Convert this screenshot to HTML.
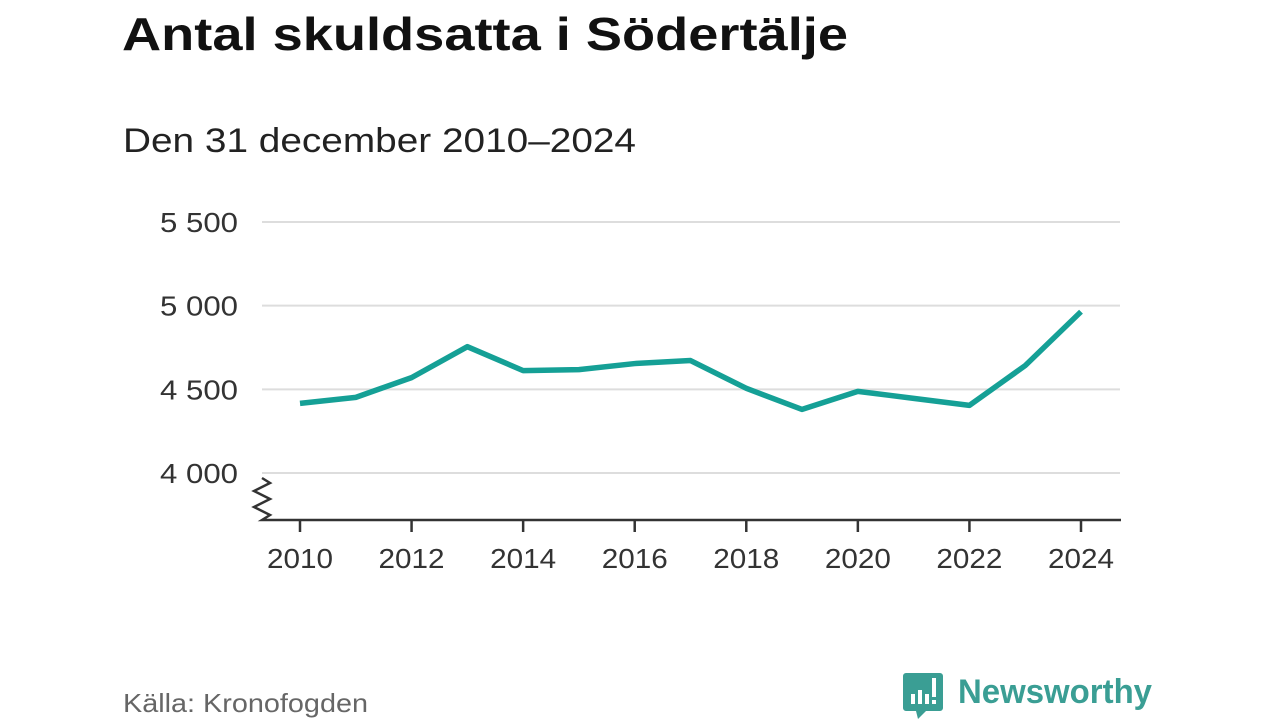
<!DOCTYPE html>
<html><head><meta charset="utf-8"><style>
body{margin:0;width:1280px;height:720px;background:#fff;font-family:"Liberation Sans","DejaVu Sans",sans-serif;overflow:hidden;position:relative}
</style></head><body>
<svg width="1280" height="720" style="position:absolute;left:0;top:0">
<text x="122" y="50" font-size="46" font-weight="bold" fill="#111" textLength="726" lengthAdjust="spacingAndGlyphs">Antal skuldsatta i Södertälje</text>
<text x="123" y="152" font-size="34" fill="#222" textLength="513" lengthAdjust="spacingAndGlyphs">Den 31 december 2010–2024</text>
<g id="grid"></g><g id="axes"></g><g id="series"></g>
<text x="123" y="712" font-size="26" fill="#666" textLength="245" lengthAdjust="spacingAndGlyphs">Källa: Kronofogden</text>
<g>
<path d="M906 673 h34 a3 3 0 0 1 3 3 v32 a3 3 0 0 1 -3 3 h-14 l-8 8 l-2 -8 h-10 a3 3 0 0 1 -3 -3 v-32 a3 3 0 0 1 3 -3z" fill="#3a9e94"/>
<rect x="911" y="694" width="4" height="10" fill="#fff"/><rect x="918" y="690" width="4" height="14" fill="#fff"/><rect x="925" y="694" width="4" height="10" fill="#fff"/><rect x="932" y="678" width="4" height="19" fill="#fff"/><rect x="932" y="700" width="4" height="4" fill="#fff"/>
<text x="958" y="703" font-size="34" font-weight="bold" fill="#3a9e94" textLength="194" lengthAdjust="spacingAndGlyphs">Newsworthy</text>
</g>
</svg>
<script>
const years=[2010,2011,2012,2013,2014,2015,2016,2017,2018,2019,2020,2021,2022,2023,2024];
const values=[4416,4452,4570,4755,4612,4618,4654,4672,4506,4380,4488,4446,4404,4642,4964];
const yTicks=[4000,4500,5000,5500];
const yTickLabels=["4 000","4 500","5 000","5 500"];
const xTicks=[2010,2012,2014,2016,2018,2020,2022,2024];
const NS="http://www.w3.org/2000/svg";
const xS=y=>300+(y-2010)*(1081-300)/14;
const yS=v=>473-(v-4000)*(473-222)/1500;
function mk(t,a,p){const e=document.createElementNS(NS,t);for(const k in a)e.setAttribute(k,a[k]);p.appendChild(e);return e;}
const grid=document.getElementById('grid'),axes=document.getElementById('axes'),ser=document.getElementById('series');
yTicks.forEach((v,i)=>{
 const l=mk('line',{x1:262,x2:1120,y1:yS(v),y2:yS(v),stroke:'#ddd','stroke-width':2},grid);
 
 
 const t=mk('text',{x:238,y:yS(v)+10,'text-anchor':'end','font-size':28,fill:'#333',textLength:78,lengthAdjust:'spacingAndGlyphs'},grid);
 t.textContent=yTickLabels[i];
 
 
});
const ax=mk('path',{d:'M262 478 l8 5 l-16 8 l16 8 l-16 8 l16 8 l-8 5 L1121 520',fill:'none',stroke:'#333','stroke-width':2.5},axes);


xTicks.forEach(y=>{
 const l=mk('line',{x1:xS(y),x2:xS(y),y1:520,y2:532,stroke:'#333','stroke-width':2.5},axes);
 
 
 const t=mk('text',{x:xS(y),y:568,'text-anchor':'middle','font-size':28,fill:'#333',textLength:66,lengthAdjust:'spacingAndGlyphs'},axes);
 t.textContent=y;
 
 
});
const p=mk('polyline',{points:years.map((y,i)=>xS(y)+','+yS(values[i])).join(' '),fill:'none',stroke:'#15a096','stroke-width':5.5,'stroke-linejoin':'round'},ser);


</script>
</body></html>
